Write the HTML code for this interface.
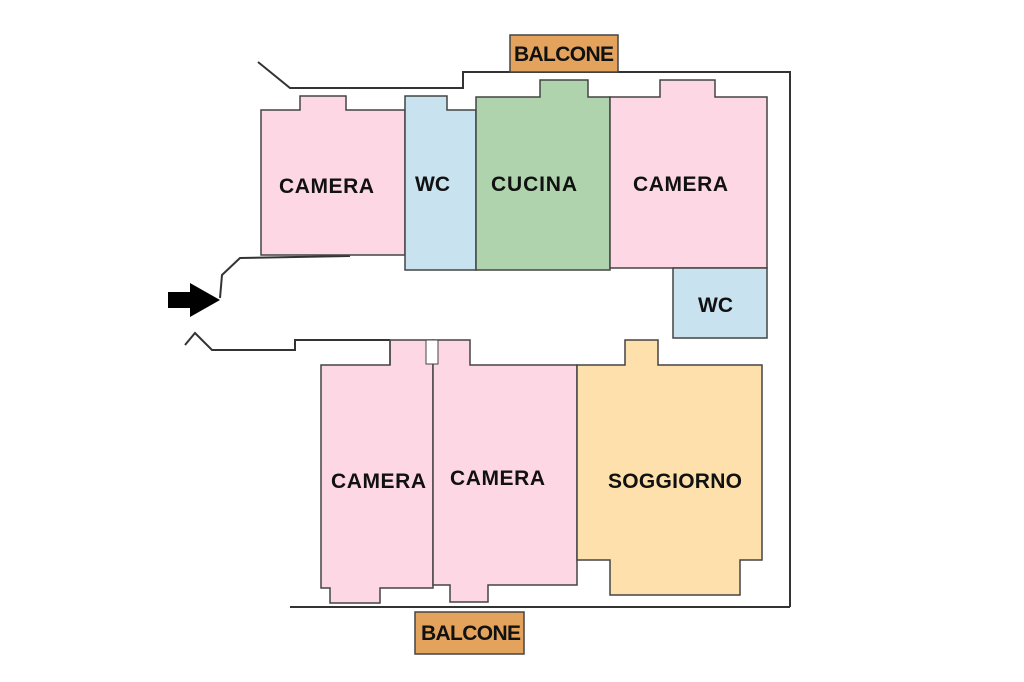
<!DOCTYPE html>
<html><head><style>
body{margin:0;background:#fff;width:1024px;height:682px;overflow:hidden}
svg{display:block}
text{font-family:"Liberation Sans",sans-serif;font-weight:bold;font-size:21px;fill:#111}
</style></head><body>
<svg width="1024" height="682" viewBox="0 0 1024 682">
<g stroke="#333" stroke-width="2" fill="none">
<polyline points="258,62 290,88 463,88 463,72 790,72 790,607"/>
<line x1="290" y1="607" x2="790" y2="607"/>
<polyline points="220,298 222,275 240,258 350,256"/>
<polyline points="185,345 195,333 212,350 295,350 295,340 390,340"/>
</g>
<g stroke="#444" stroke-width="1.5">
<polygon points="261,110 300,110 300,96 346,96 346,110 405,110 405,255 261,255" fill="#fdd8e4"/>
<polygon points="405,96 447,96 447,110 476,110 476,270 405,270" fill="#c8e2ef"/>
<polygon points="476,97 540,97 540,80 588,80 588,97 610,97 610,270 476,270" fill="#aed3ad"/>
<polygon points="610,97 660,97 660,80 715,80 715,97 767,97 767,268 610,268" fill="#fdd8e4"/>
<rect x="673" y="268" width="94" height="70" fill="#c8e2ef"/>
<polygon points="321,365 390,365 390,340 433,340 433,588 380,588 380,603 330,603 330,588 321,588" fill="#fdd8e4"/>
<polygon points="433,340 470,340 470,365 577,365 577,585 488,585 488,602 450,602 450,585 433,585" fill="#fdd8e4"/>
<polygon points="577,365 625,365 625,340 658,340 658,365 762,365 762,560 740,560 740,595 610,595 610,560 577,560" fill="#fde0ac"/>
<rect x="510" y="35" width="108" height="37" fill="#e3a35d"/>
<rect x="415" y="612" width="109" height="42" fill="#e3a35d"/>
</g>
<rect x="426" y="340" width="12" height="24" fill="#fff" stroke="#444"/>
<line x1="390" y1="340" x2="390" y2="365" stroke="#444" stroke-width="1.5"/>
<polygon points="168,292 190,292 190,283 220,300 190,317 190,308 168,308" fill="#000"/>
<text x="279" y="193" textLength="95">CAMERA</text>
<text x="415" y="191">WC</text>
<text x="491" y="191" textLength="86">CUCINA</text>
<text x="633" y="191" textLength="95">CAMERA</text>
<text x="698" y="312">WC</text>
<text x="331" y="488" textLength="95">CAMERA</text>
<text x="450" y="485" textLength="95">CAMERA</text>
<text x="608" y="488" textLength="134">SOGGIORNO</text>
<text x="514" y="61" textLength="100">BALCONE</text>
<text x="421" y="640" textLength="100">BALCONE</text>
</svg>
</body></html>
